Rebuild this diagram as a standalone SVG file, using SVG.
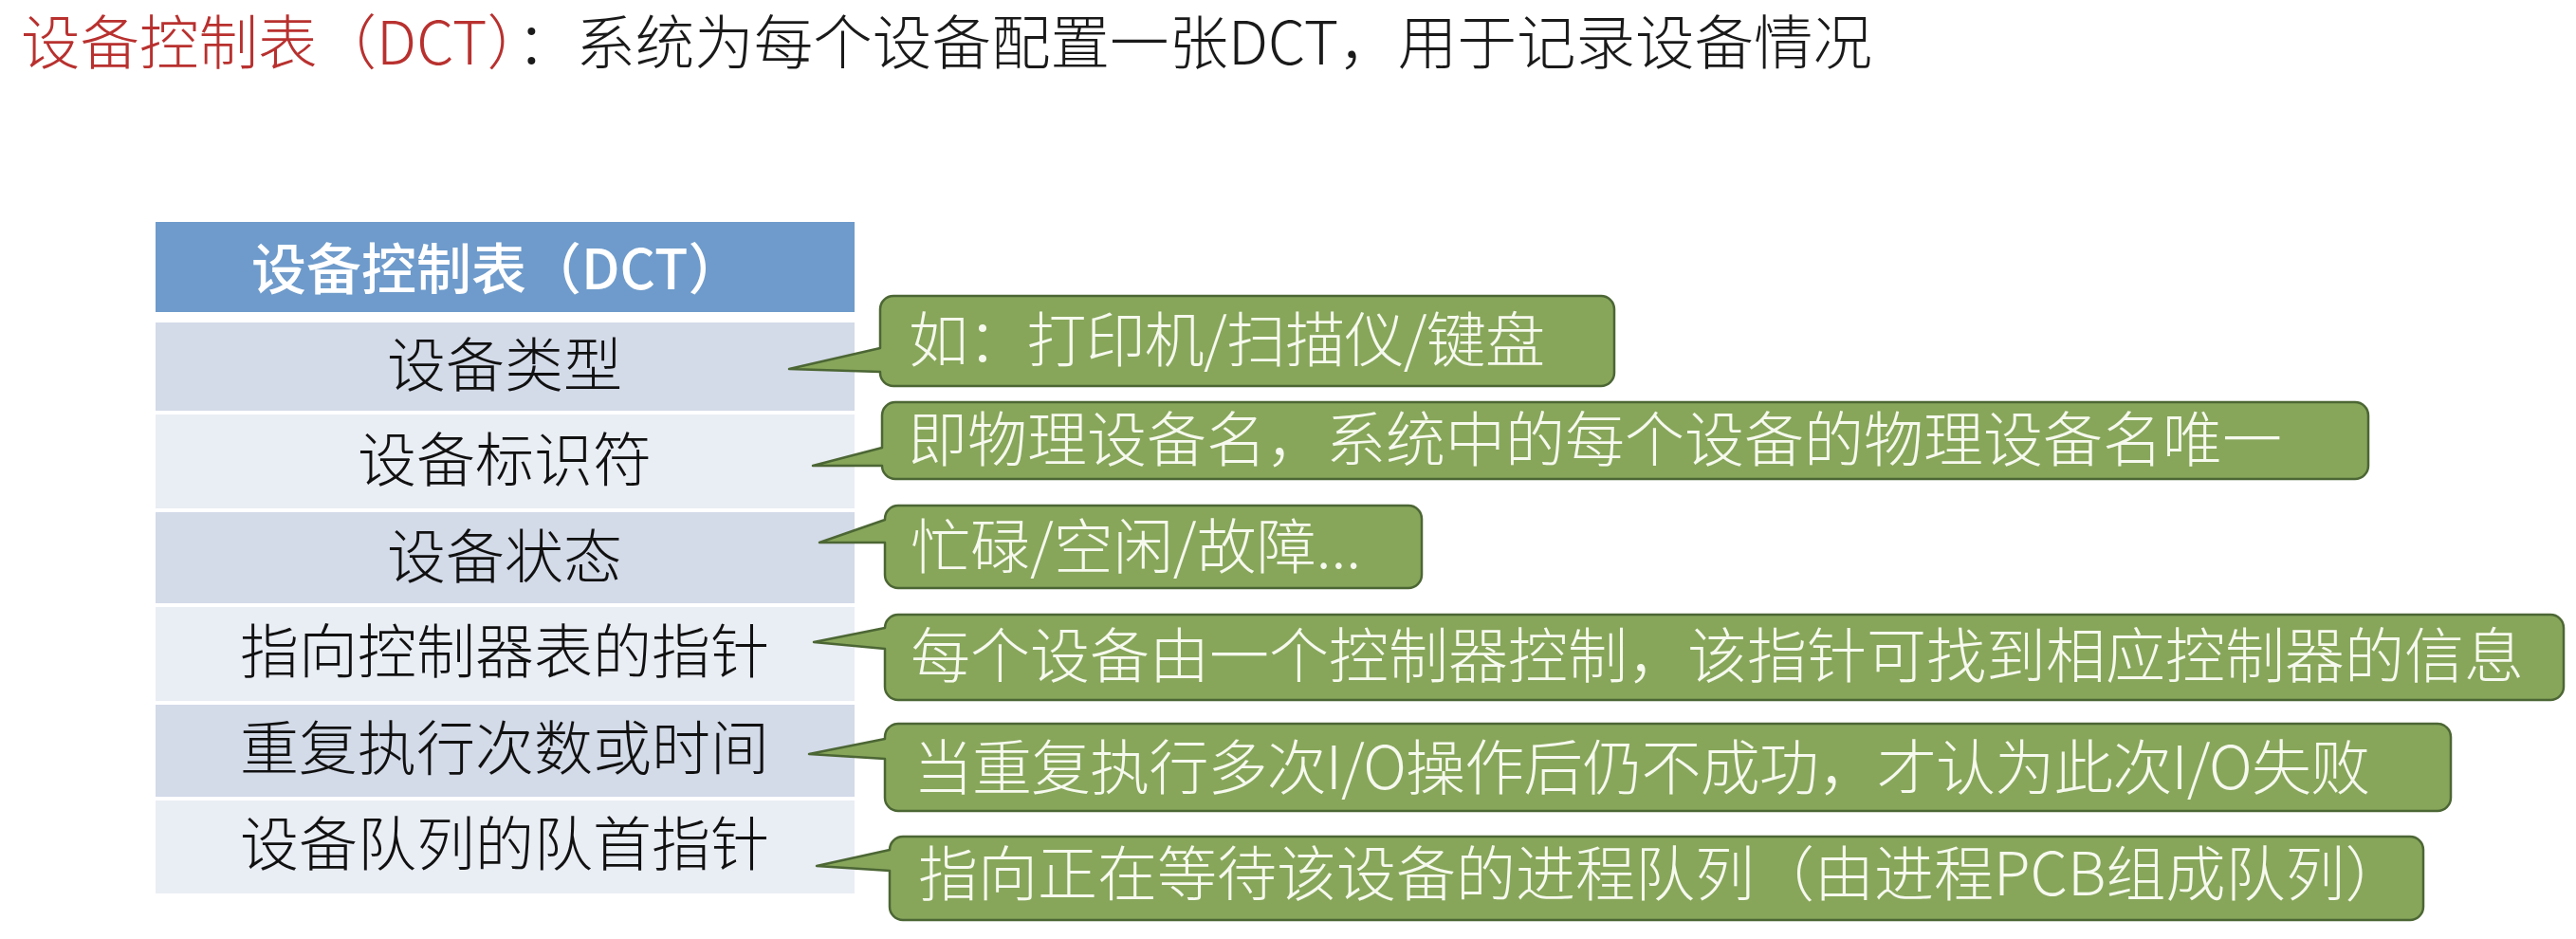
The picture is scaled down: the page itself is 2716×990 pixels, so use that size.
<svg xmlns="http://www.w3.org/2000/svg" width="2716" height="990" viewBox="0 0 2716 990">
  <style>
    .cjk { font-family: "Noto Sans CJK SC", "Liberation Sans", sans-serif; }
    .title { font-size: 62.5px; font-weight: 300; fill: #1a1a1a; }
    .red { fill: #b8312f; }
    .hdr { fill: #6e9bcb; }
    .hdrtxt { font-size: 58px; font-weight: 500; fill: #ffffff; }
    .rowA { fill: #d3dae8; }
    .rowB { fill: #e9edf4; }
    .rowtxt { font-size: 62px; font-weight: 300; fill: #111111; text-anchor: middle; }
    .callout { fill: #87a65a; stroke: #4c6634; stroke-width: 2.5; stroke-linejoin: round; }
    .ctxt { font-size: 63px; font-weight: 300; fill: #f6f9ee; }
  </style>
  <rect x="0" y="0" width="2716" height="990" fill="#ffffff"/>

  <g id="title">
    <text class="cjk title" x="22" y="68" textLength="1952" lengthAdjust="spacing"><tspan class="red">设备控制表（DCT）</tspan>：系统为每个设备配置一张DCT，用于记录设备情况</text>
  </g>

  <g id="table">
    <g id="table-header">
      <rect class="hdr" x="164" y="234" width="737" height="95"/>
      <text class="cjk hdrtxt" x="265" y="305">设备控制表（DCT）</text>
    </g>
    <g id="row-type">
      <rect class="rowA" x="164" y="340" width="737" height="93"/>
      <text class="cjk rowtxt" x="532" y="408">设备类型</text>
    </g>
    <g id="row-id">
      <rect class="rowB" x="164" y="437" width="737" height="99"/>
      <text class="cjk rowtxt" x="532" y="508">设备标识符</text>
    </g>
    <g id="row-state">
      <rect class="rowA" x="164" y="540" width="737" height="96"/>
      <text class="cjk rowtxt" x="532" y="610">设备状态</text>
    </g>
    <g id="row-ctrl">
      <rect class="rowB" x="164" y="640" width="737" height="99"/>
      <text class="cjk rowtxt" x="532" y="710">指向控制器表的指针</text>
    </g>
    <g id="row-retry">
      <rect class="rowA" x="164" y="743" width="737" height="97"/>
      <text class="cjk rowtxt" x="532" y="812">重复执行次数或时间</text>
    </g>
    <g id="row-queue">
      <rect class="rowB" x="164" y="844" width="737" height="98"/>
      <text class="cjk rowtxt" x="532" y="913">设备队列的队首指针</text>
    </g>
  </g>

  <g id="connectors"></g>

  <g id="callout-type">
    <path class="callout" d="M942,312 H1688 A14,14 0 0 1 1702,326 V393 A14,14 0 0 1 1688,407 H942 A14,14 0 0 1 928,393 V392 L832,389 L928,367 V326 A14,14 0 0 1 942,312 Z"/>
    <text class="cjk ctxt" x="958" y="381" textLength="671" lengthAdjust="spacing">如：打印机/扫描仪/键盘</text>
  </g>
  <g id="callout-id">
    <path class="callout" d="M944,424 H2483 A14,14 0 0 1 2497,438 V491 A14,14 0 0 1 2483,505 H944 A14,14 0 0 1 930,491 L857,491 L930,472 V438 A14,14 0 0 1 944,424 Z"/>
    <text class="cjk ctxt" x="957" y="486">即物理设备名，系统中的每个设备的物理设备名唯一</text>
  </g>
  <g id="callout-state">
    <path class="callout" d="M947,533 H1485 A14,14 0 0 1 1499,547 V606 A14,14 0 0 1 1485,620 H947 A14,14 0 0 1 933,606 V572 L864,572 L933,548 V547 A14,14 0 0 1 947,533 Z"/>
    <text class="cjk ctxt" x="960" y="599">忙碌/空闲/故障...</text>
  </g>
  <g id="callout-ctrl">
    <path class="callout" d="M947,648 H2689 A14,14 0 0 1 2703,662 V724 A14,14 0 0 1 2689,738 H947 A14,14 0 0 1 933,724 V684 L858,677 L933,662 A14,14 0 0 1 947,648 Z"/>
    <text class="cjk ctxt" x="960" y="714">每个设备由一个控制器控制，该指针可找到相应控制器的信息</text>
  </g>
  <g id="callout-retry">
    <path class="callout" d="M947,763 H2570 A14,14 0 0 1 2584,777 V841 A14,14 0 0 1 2570,855 H947 A14,14 0 0 1 933,841 V800 L853,795 L933,779 V777 A14,14 0 0 1 947,763 Z"/>
    <text class="cjk ctxt" x="963" y="832" textLength="1536" lengthAdjust="spacing">当重复执行多次I/O操作后仍不成功，才认为此次I/O失败</text>
  </g>
  <g id="callout-queue">
    <path class="callout" d="M952,882 H2541 A14,14 0 0 1 2555,896 V956 A14,14 0 0 1 2541,970 H952 A14,14 0 0 1 938,956 V918 L861,913 L938,896 A14,14 0 0 1 952,882 Z"/>
    <text class="cjk ctxt" x="968" y="944">指向正在等待该设备的进程队列（由进程PCB组成队列）</text>
  </g>
</svg>
